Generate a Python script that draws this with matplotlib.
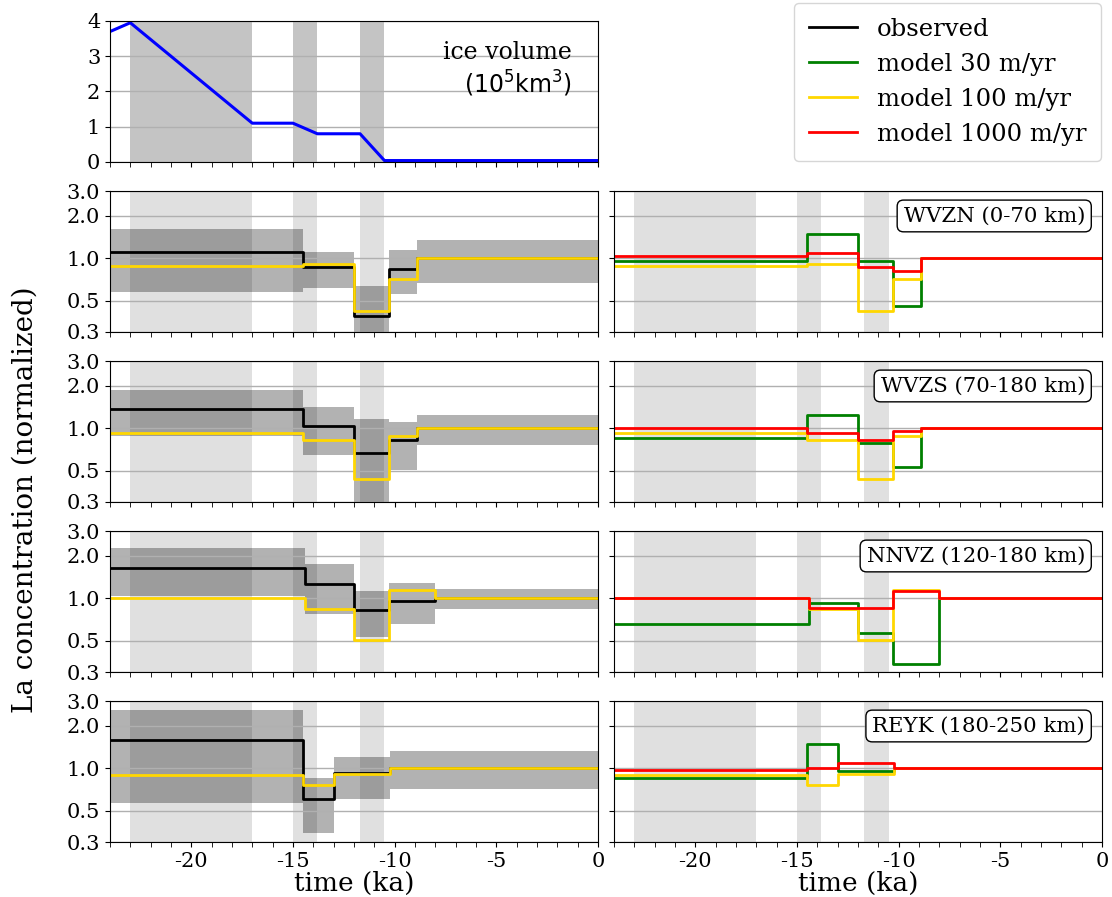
import numpy as np
import matplotlib
matplotlib.use("Agg")
import matplotlib.pyplot as plt
from matplotlib.ticker import MultipleLocator, NullLocator

plt.rcParams['font.family'] = 'serif'
plt.rcParams['axes.unicode_minus'] = False

# ice volume (10^5 km^3)
ice_time = [-24, -23, -17, -15, -13.8, -11.7, -10.5, 0]
ice_vol = [3.7, 3.95, 1.1, 1.1, 0.8, 0.8, 0.04, 0.04]

# deglaciation phases (ka)
phases = [(-23, -17), (-15, -13.8), (-11.7, -10.5)]

# La concentration, normalized, per time bin
edges_wvzn = [-24, -14.5, -12, -10.3, -8.9, 0]
obs_wvzn = [1.11, 0.86, 0.39, 0.84, 1.0]
obs_lo_wvzn = [0.58, 0.62, 0.25, 0.56, 0.67]
obs_hi_wvzn = [1.61, 1.10, 0.64, 1.14, 1.35]
m30_wvzn = [0.95, 1.49, 0.96, 0.46, 1.0]
m100_wvzn = [0.88, 0.91, 0.42, 0.71, 1.0]
m1000_wvzn = [1.03, 1.09, 0.87, 0.81, 1.0]

edges_wvzs = [-24, -14.5, -12, -10.3, -8.9, 0]
obs_wvzs = [1.37, 1.03, 0.67, 0.82, 1.0]
obs_lo_wvzs = [0.88, 0.65, 0.25, 0.51, 0.76]
obs_hi_wvzs = [1.87, 1.41, 1.16, 1.10, 1.24]
m30_wvzs = [0.86, 1.24, 0.78, 0.53, 1.0]
m100_wvzs = [0.93, 0.82, 0.44, 0.88, 1.0]
m1000_wvzs = [1.01, 0.92, 0.82, 0.95, 1.0]

edges_nnvz = [-24, -14.4, -12, -10.3, -8, 0]
obs_nnvz = [1.65, 1.26, 0.82, 0.96, 1.0]
obs_lo_nnvz = [1.04, 0.77, 0.53, 0.66, 0.84]
obs_hi_nnvz = [2.27, 1.75, 1.12, 1.28, 1.16]
m30_nnvz = [0.66, 0.92, 0.57, 0.34, 1.0]
m100_nnvz = [1.0, 0.84, 0.51, 1.15, 1.0]
m1000_nnvz = [1.0, 0.86, 0.85, 1.13, 1.0]

edges_reyk = [-24, -14.5, -13, -10.25, 0]
obs_reyk = [1.58, 0.61, 0.92, 1.0]
obs_lo_reyk = [0.565, 0.35, 0.61, 0.71]
obs_hi_reyk = [2.59, 0.86, 1.20, 1.32]
m30_reyk = [0.85, 1.49, 0.95, 1.0]
m100_reyk = [0.89, 0.76, 0.91, 1.0]
m1000_reyk = [0.98, 1.0, 1.09, 1.0]

stations = [
    ('WVZN (0-70 km)', edges_wvzn, obs_wvzn, obs_lo_wvzn, obs_hi_wvzn, m30_wvzn, m100_wvzn, m1000_wvzn),
    ('WVZS (70-180 km)', edges_wvzs, obs_wvzs, obs_lo_wvzs, obs_hi_wvzs, m30_wvzs, m100_wvzs, m1000_wvzs),
    ('NNVZ (120-180 km)', edges_nnvz, obs_nnvz, obs_lo_nnvz, obs_hi_nnvz, m30_nnvz, m100_nnvz, m1000_nnvz),
    ('REYK (180-250 km)', edges_reyk, obs_reyk, obs_lo_reyk, obs_hi_reyk, m30_reyk, m100_reyk, m1000_reyk),
]

yt = [0.3, 0.5, 1.0, 2.0, 3.0]
ytl = ['0.3', '0.5', '1.0', '2.0', '3.0']
TICK = 15

fig, axs = plt.subplots(5, 2, figsize=(11.12, 8.97), dpi=100)
fig.subplots_adjust(left=0.0989, right=0.991, bottom=0.0613, top=0.9766,
                    wspace=0.033, hspace=0.206)
axs[0, 1].axis('off')


def style_x(ax, labels):
    ax.set_xlim(-24, 0)
    ax.xaxis.set_major_locator(MultipleLocator(5))
    ax.xaxis.set_minor_locator(MultipleLocator(1))
    ax.tick_params(which='minor', length=3.5)
    ax.tick_params(labelsize=TICK, labelbottom=labels)


def steps(ax, edges, vals, **kw):
    # piecewise constant value over each bin
    return ax.step(edges, list(vals) + [vals[-1]], where='post', lw=2, **kw)[0]


# ice volume panel
ax = axs[0, 0]
for a, b in phases:
    ax.axvspan(a, b, color='#c4c4c4', lw=0)
ax.plot(ice_time, ice_vol, color='blue', lw=2.2)
ax.set_ylim(0, 4)
ax.set_yticks([0, 1, 2, 3, 4])
ax.yaxis.grid(True, color='#b0b0b0', lw=1)
style_x(ax, False)
ax.text(0.947, 0.65, 'ice volume\n' + r'$(10^5\mathrm{km}^3)$', transform=ax.transAxes,
        ha='right', va='center', fontsize=17, multialignment='right')

handles = []
for i, (name, edges, obs, lo, hi, m30, m100, m1000) in enumerate(stations):
    axl = axs[i + 1, 0]
    axr = axs[i + 1, 1]
    last = i == len(stations) - 1
    for ax in (axl, axr):
        for a, b in phases:
            ax.axvspan(a, b, color='#e0e0e0', lw=0)
        ax.set_yscale('log')
        ax.set_ylim(0.3, 3.0)
        ax.set_yticks(yt)
        ax.set_yticklabels(ytl)
        ax.yaxis.set_minor_locator(NullLocator())
        ax.yaxis.grid(True, color='#b0b0b0', lw=1)
        style_x(ax, last)
        if last:
            ax.set_xlabel('time (ka)', fontsize=19, labelpad=0)

    axl.stairs(hi, edges, baseline=lo, fill=True, color='k', alpha=0.3, lw=0)
    h_obs = steps(axl, edges, obs, color='k', label='observed')
    steps(axl, edges, m100, color='gold')

    h30 = steps(axr, edges, m30, color='green', label='model 30 m/yr')
    h100 = steps(axr, edges, m100, color='gold', label='model 100 m/yr')
    h1000 = steps(axr, edges, m1000, color='red', label='model 1000 m/yr')
    axr.tick_params(labelleft=False)
    axr.text(0.965, 0.823, name, transform=axr.transAxes, ha='right', va='center',
             fontsize=15.3, bbox=dict(boxstyle='round,pad=0.3', fc='white', ec='black'))
    if i == 0:
        handles = [h_obs, h30, h100, h1000]

fig.legend(handles, [h.get_label() for h in handles], loc='upper right',
           bbox_to_anchor=(0.9901, 0.9967), borderaxespad=0, fontsize=17.5,
           borderpad=0.6)

fig.text(0.0225, 0.4426, 'La concentration (normalized)', rotation=90,
         ha='center', va='center', fontsize=20)

fig.savefig('out.png', dpi=100)
